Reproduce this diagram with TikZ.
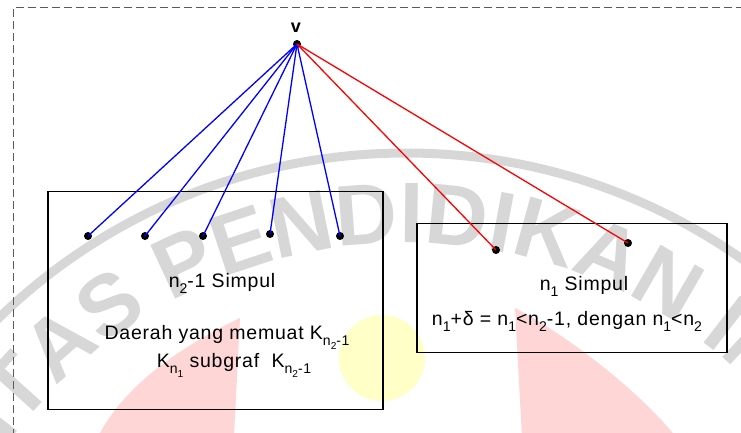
\documentclass[tikz,border=0pt]{standalone}
\usepackage{fontspec}
\setmainfont{Liberation Sans}
\usetikzlibrary{decorations.text}
\definecolor{wmgrey}{RGB}{215,215,215}
\definecolor{wmpink}{RGB}{255,214,214}
\definecolor{wmyellow}{RGB}{255,255,200}
\definecolor{framegrey}{RGB}{90,90,90}
\newcommand\sbx[1]{\raisebox{-0.32em}{\scalebox{0.72}{#1}}}
\begin{document}
\begin{tikzpicture}[x=1pt,y=1pt,
  dot/.style={circle,fill=black,inner sep=0pt,minimum size=8pt},
  bluedge/.style={draw=blue,line width=1.3pt},
  rededge/.style={draw=red,line width=1.3pt},
  region/.style={draw=black,line width=1.5pt},
  lbl/.style={font=\fontsize{19.5}{21}\selectfont\addfontfeatures{LetterSpace=4},inner sep=0pt}]
\useasboundingbox (0,0) rectangle (741,432);
\clip (0,0) rectangle (741,432);
% watermark
\fill[wmpink] (240,114) .. controls (190,90) and (125,50) .. (98,-5) -- (234,-5) -- cycle;
\fill[wmpink] (515,124) -- (522,-5) -- (676,-5) .. controls (640,40) and (570,95) .. cycle;
\fill[wmyellow] (382,74) circle (43);
\draw[wmgrey,line width=9pt] (406,-306) circle (585);
\path[decorate,decoration={text along path,text align=center,text color=wmgrey,
  text={|\bfseries\fontsize{86}{86}\selectfont|UNIVERSITAS PENDIDIKAN INDONESIA}}]
  (406,-306) ++(193.2:495) arc[start angle=193.2,end angle=-6.8,radius=495];
% frame
\draw[framegrey,line width=1pt,dash pattern=on 8pt off 4pt] (13,-5) -- (13,424) -- (750,424);
% regions
\node[region,minimum width=335pt,minimum height=218pt,inner sep=0pt,anchor=south west] (L) at (47,22) {};
\node[region,minimum width=310pt,minimum height=129pt,inner sep=0pt,anchor=south west] (R) at (416,79) {};
% vertices
\node[dot] (v) at (297,388) {};
\node[font=\bfseries\fontsize{18}{18}\selectfont,inner sep=0pt,anchor=base] (vl) at (296,399) {v};
\node[dot] (a1) at (88,196) {};
\node[dot] (a2) at (145,196) {};
\node[dot] (a3) at (203,196) {};
\node[dot] (a4) at (270,198) {};
\node[dot] (a5) at (340,196) {};
\node[dot] (b1) at (496,182) {};
\node[dot] (b2) at (628,189) {};
\foreach \t in {a1,a2,a3,a4,a5} \draw[bluedge] (v.center) -- (\t.center);
\foreach \t in {b1,b2} \draw[rededge] (v.center) -- (\t.center);
% texts
\node[lbl,anchor=base] (t1) at (222,145) {n\sbx{2}-1 Simpul};
\node[lbl,anchor=base] (t2) at (227,93) {Daerah yang memuat K\sbx{n\sbx{2}-1}};
\node[lbl,anchor=base] (t3) at (234,65) {K\sbx{n\sbx{1}}\ subgraf\ \ K\sbx{n\sbx{2}-1}};
\node[lbl,anchor=base] (t4) at (584,142) {n\sbx{1} Simpul};
\node[lbl,anchor=base] (t5) at (567,107) {n\sbx{1}+δ = n\sbx{1}<n\sbx{2}-1, dengan n\sbx{1}<n\sbx{2}};
\end{tikzpicture}
\end{document}
